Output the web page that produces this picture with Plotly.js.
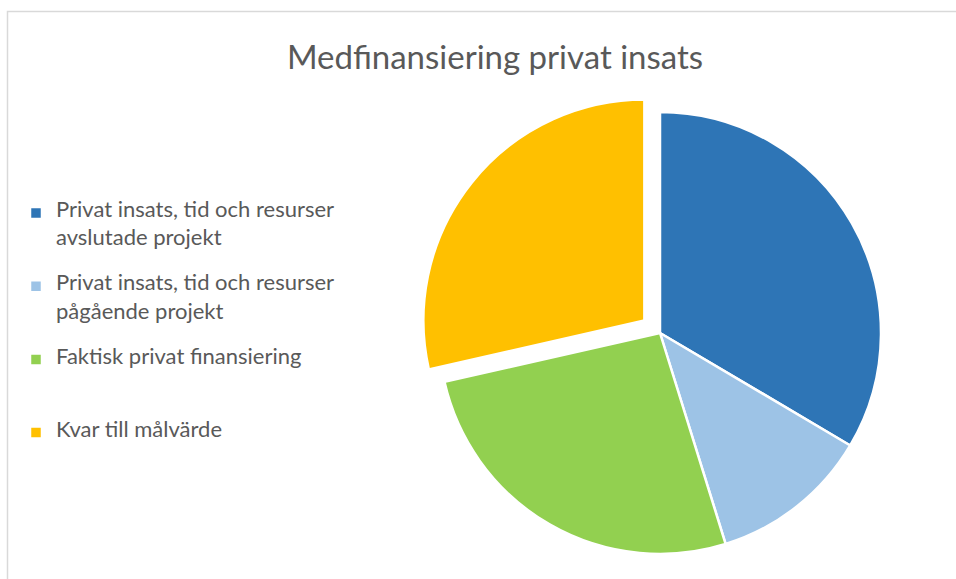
<!DOCTYPE html>
<html>
<head>
<meta charset="utf-8">
<script src="https://cdn.plot.ly/plotly-3.0.1.min.js"></script>
<style>
  html, body { margin: 0; padding: 0; background: #ffffff; }
  #chart { width: 956px; height: 579px; }
  #chart text { font-variant-ligatures: none; }
</style>
</head>
<body>
<div id="chart"></div>
<script>
// Data (shares of the whole)
const categories = [
  ["Privat insats, tid och resurser", "avslutade projekt"],
  ["Privat insats, tid och resurser", "pågående projekt"],
  ["Faktisk privat finansiering"],
  ["Kvar till målvärde"]
];
const values = [33.5, 11.7, 26.25, 28.55];
const colors = ["#2E75B6", "#9DC3E6", "#92D050", "#FFC000"];
const pulls = [0, 0, 0, 0.0905];
const chartTitle = "Medfinansiering privat insats";

const W = 956, H = 579;
// Legend layout: each entry uses 5 thin rows (text on rows 0 and 2) so that
// text lines are ~28px apart and entries ~73px apart, as in the original.
const LEGEND_ROWS = 5;
const LEGEND_BASE = 10.8;    // row pitch = 1.3 * base
const LEGEND_GLYPH = 22;     // visible legend text size

const labels = categories.map(lines => {
  const rows = [];
  lines.forEach((l, i) => {
    if (i > 0) rows.push(' ');
    rows.push('<span style="font-size:' + LEGEND_GLYPH + 'px">' + l + '</span>');
  });
  while (rows.length < LEGEND_ROWS) rows.push(' ');
  return rows.join('<br>');
});

const trace = {
  type: "pie",
  labels: labels,
  values: values,
  sort: false,
  direction: "clockwise",
  rotation: 0,
  pull: pulls,
  textinfo: "none",
  hoverinfo: "percent",
  marker: { colors: colors, line: { color: "#ffffff", width: 2.5 } },
  domain: { x: [419 / W, 901 / W], y: [1 - 574 / H, 1 - 92 / H] }
};

const layout = {
  width: W,
  height: H,
  margin: { l: 0, r: 0, t: 0, b: 0 },
  paper_bgcolor: "#ffffff",
  title: {
    text: chartTitle,
    font: { family: "Lato, 'Open Sans', sans-serif", size: 33, color: "#595959" },
    x: 495 / W,
    xanchor: "center",
    y: 1 - 57 / H,
    yanchor: "middle",
    yref: "paper"
  },
  showlegend: true,
  legend: {
    x: 16 / W,
    xanchor: "left",
    y: 1 - 199.5 / H,
    yanchor: "top",
    valign: "top",
    font: { family: "Lato, 'Open Sans', sans-serif", size: LEGEND_BASE, color: "#595959" },
    bgcolor: "rgba(0,0,0,0)"
  },
  shapes: [{
    type: "rect", xref: "paper", yref: "paper",
    x0: 7.5 / W, x1: 1.05, y0: -0.05, y1: 1 - 11.5 / H,
    line: { color: "#D9D9D9", width: 1.5 },
    fillcolor: "rgba(0,0,0,0)",
    layer: "below"
  }]
};

Plotly.newPlot("chart", [trace], layout, { displayModeBar: false, staticPlot: true });
</script>
</body>
</html>
